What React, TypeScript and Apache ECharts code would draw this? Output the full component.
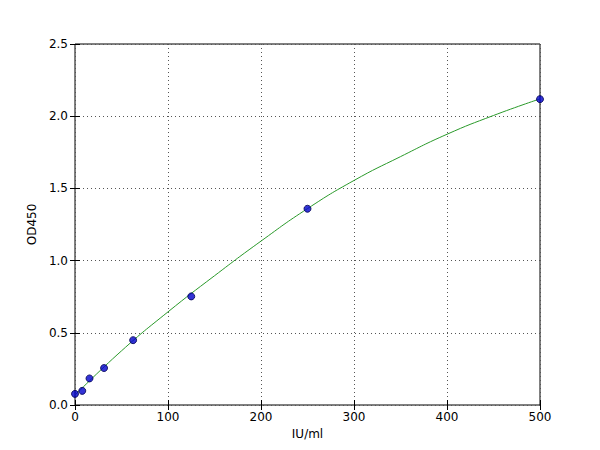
import React, { useEffect, useRef } from 'react';
import * as echarts from 'echarts';

// standard points (IU/ml, OD450)
const stdConc = [0, 7.8, 15.6, 31.25, 62.5, 125, 250, 500];
const stdOD = [0.077, 0.098, 0.184, 0.256, 0.449, 0.752, 1.359, 2.118];

// fitted curve
const fitConc = [0, 50, 100, 150, 200, 250, 300, 350, 400, 450, 500];
const fitOD = [0.068, 0.375, 0.645, 0.895, 1.135, 1.36, 1.555, 1.72, 1.875, 2.005, 2.12];

const font = 'DejaVu Sans';

const App: React.FC = () => {
  const chartRef = useRef<HTMLDivElement>(null);

  useEffect(() => {
    if (!chartRef.current) return;
    const chart = echarts.init(chartRef.current, null, { renderer: 'svg' });

    const hiddenAxis = {
      min: 0,
      axisLine: { show: false },
      axisLabel: { show: false },
      splitLine: { show: false },
      axisTick: { show: true, inside: true, length: 5, lineStyle: { color: '#000' } },
    };

    const option = {
      animation: false,
      backgroundColor: '#fff',
      grid: { left: 75, right: 60, top: 44, bottom: 45, show: true, borderColor: '#000', borderWidth: 1 },
      xAxis: [
        {
          type: 'value',
          min: 0,
          max: 500,
          interval: 100,
          name: 'IU/ml',
          nameLocation: 'middle',
          nameGap: 20,
          nameTextStyle: { fontFamily: font, fontSize: 12, color: '#000' },
          axisLine: { show: false },
          axisTick: { inside: true, length: 5, lineStyle: { color: '#000' } },
          axisLabel: { fontFamily: font, fontSize: 12, color: '#000', margin: 6 },
          splitLine: { show: true, lineStyle: { color: '#555', type: [1, 3], width: 1 } },
        },
        { type: 'value', position: 'top', max: 500, interval: 100, ...hiddenAxis },
      ],
      yAxis: [
        {
          type: 'value',
          min: 0,
          max: 2.5,
          interval: 0.5,
          name: 'OD450',
          nameLocation: 'middle',
          nameGap: 31,
          nameTextStyle: { fontFamily: font, fontSize: 12, color: '#000' },
          axisLine: { show: false },
          axisTick: { inside: true, length: 5, lineStyle: { color: '#000' } },
          axisLabel: { fontFamily: font, fontSize: 12, color: '#000', margin: 7, formatter: (v: number) => v.toFixed(1) },
          splitLine: { show: true, lineStyle: { color: '#555', type: [1, 3], width: 1 } },
        },
        { type: 'value', position: 'right', max: 2.5, interval: 0.5, ...hiddenAxis },
      ],
      series: [
        {
          type: 'line',
          data: fitConc.map((x, i) => [x, fitOD[i]]),
          smooth: 0.5,
          showSymbol: false,
          lineStyle: { color: '#2a9a2a', width: 1 },
          clip: false,
          z: 2,
        },
        {
          type: 'scatter',
          data: stdConc.map((x, i) => [x, stdOD[i]]),
          symbol: 'circle',
          symbolSize: 7,
          itemStyle: { color: '#0000cc', borderColor: '#000050', borderWidth: 1 },
          clip: false,
          z: 3,
        },
      ],
    };

    chart.setOption(option as any);
    return () => chart.dispose();
  }, []);

  return (
    <div
      ref={chartRef}
      style={{ position: 'absolute', left: 0, top: 0, width: 600, height: 450 }}
    />
  );
};

export default App;
